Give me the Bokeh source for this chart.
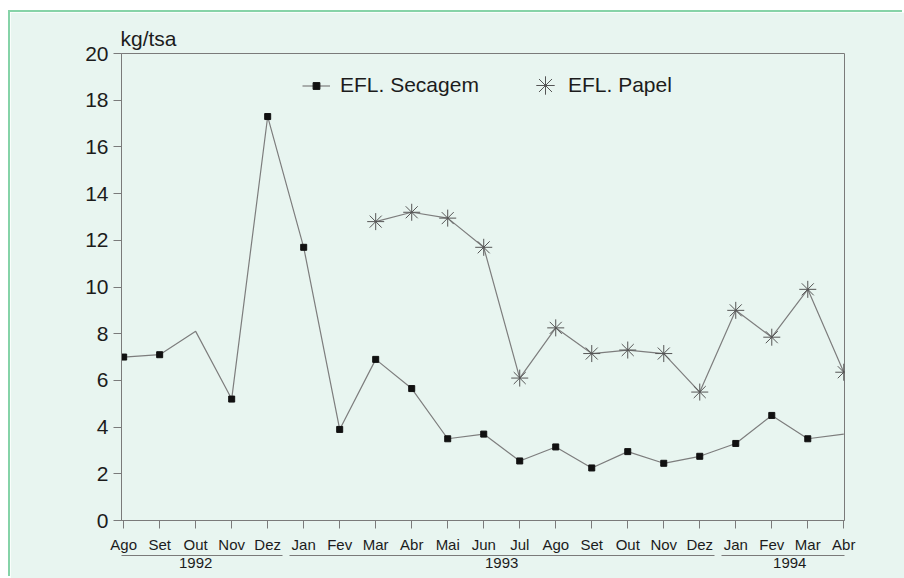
import numpy as np
from bokeh.plotting import figure
from bokeh.models import (ColumnDataSource, Range1d, FixedTicker, Legend, LegendItem,
                          LinearAxis)
from bokeh.embed import file_html
from bokeh.resources import INLINE

# Months from Aug 1992 to Apr 1994
months = ["Ago", "Set", "Out", "Nov", "Dez", "Jan", "Fev", "Mar", "Abr", "Mai", "Jun",
          "Jul", "Ago", "Set", "Out", "Nov", "Dez", "Jan", "Fev", "Mar", "Abr"]

# Effluent load, kg per ton of air-dry pulp
secagem = [7.0, 7.1, 8.1, 5.2, 17.3, 11.7, 3.9, 6.9, 5.65, 3.5, 3.7,
           2.55, 3.15, 2.25, 2.95, 2.45, 2.75, 3.3, 4.5, 3.5, 3.7]
secagem_marked = [True, True, False, True, True, True, True, True, True, True, True,
                  True, True, True, True, True, True, True, True, True, False]
papel = [np.nan] * 7 + [12.8, 13.2, 12.95, 11.7, 6.1, 8.25, 7.15,
                        7.3, 7.15, 5.5, 9.0, 7.85, 9.9, 6.35]

years = ["1992", "1993", "1994"]
year_first = [0, 5, 17]
year_last = [4, 16, 20]

MINT = "#e8f5f0"
AXIS = "#7a7a7a"
TEXT = "#1c1c1c"
SERIES = "#7d7d7d"
FRAME_GREEN = "#86d3a8"
SANS = "Liberation Sans"
NARROW = "'Liberation Sans Narrow', 'Liberation Sans', sans-serif"

x = np.arange(len(months))
mask = np.array(secagem_marked)

p = figure(width=894, height=566, output_backend="svg", toolbar_location=None,
           title="kg/tsa",
           x_range=Range1d(-0.06, 20.02), y_range=Range1d(0, 20),
           min_border_left=111, min_border_right=60, min_border_top=41, min_border_bottom=58,
           background_fill_color=MINT, border_fill_color=MINT,
           outline_line_color=AXIS, outline_line_width=1,
           styles={"margin-left": "10px", "margin-top": "12px",
                   "box-shadow": f"-2px -2px 0 0 {FRAME_GREEN}"})
p.grid.visible = False

# unit caption above the value axis
p.title.align = "left"
p.title.offset = -1
p.title.standoff = 8
p.title.text_font = SANS
p.title.text_font_size = "21px"
p.title.text_font_style = "normal"
p.title.text_color = TEXT

# axes
p.xaxis.ticker = FixedTicker(ticks=list(range(len(months))))
p.xaxis.major_label_overrides = {i: m for i, m in enumerate(months)}
p.xaxis.minor_tick_line_color = None
p.xaxis.major_tick_out = 8
p.xaxis.major_tick_in = 0
p.xaxis.major_label_standoff = 7
p.xaxis.major_label_text_font = NARROW
p.xaxis.major_label_text_font_size = "15px"

p.yaxis.ticker = FixedTicker(ticks=list(range(0, 21, 2)))
p.yaxis.minor_tick_line_color = None
p.yaxis.major_tick_out = 8
p.yaxis.major_tick_in = 0
p.yaxis.major_label_standoff = 5
p.yaxis.major_label_text_font = SANS
p.yaxis.major_label_text_font_size = "21px"

for ax in (p.xaxis, p.yaxis):
    ax.axis_line_color = AXIS
    ax.major_tick_line_color = AXIS
    ax.major_label_text_color = TEXT

# year brackets: one bounded axis line per year, then a row with the year names
for a, b in zip(year_first, year_last):
    p.add_layout(LinearAxis(ticker=FixedTicker(ticks=[]), bounds=(a - 0.4, b + 0.4),
                            major_tick_out=0, major_tick_in=0,
                            minor_tick_out=0, minor_tick_in=0,
                            major_label_standoff=0, axis_line_color=AXIS,
                            axis_line_width=1), "below")
centers = [(a + b) / 2 for a, b in zip(year_first, year_last)]
p.add_layout(LinearAxis(ticker=FixedTicker(ticks=centers),
                        major_label_overrides=dict(zip(centers, years)),
                        major_tick_out=0, major_tick_in=0,
                        minor_tick_out=0, minor_tick_in=0,
                        axis_line_color=None, major_label_standoff=2,
                        major_label_text_font=SANS, major_label_text_font_size="15px",
                        major_label_text_color=TEXT), "below")

# series
sec_src = ColumnDataSource(dict(x=x, y=secagem))
sec_pts = ColumnDataSource(dict(x=x[mask], y=np.array(secagem)[mask]))
pap_src = ColumnDataSource(dict(x=x, y=papel))

sec_line = p.line("x", "y", source=sec_src, line_color=SERIES, line_width=1.2)
sec_mark = p.scatter("x", "y", source=sec_pts, marker="square", size=6,
                     fill_color="#111111", line_color="#111111")
pap_line = p.line("x", "y", source=pap_src, line_color=SERIES, line_width=1.2)
pap_mark = p.scatter("x", "y", source=pap_src, marker="asterisk", size=17,
                     line_color="#555555", line_width=1)

# legend entries laid out in a row near the top of the frame
leg_common = dict(padding=0, margin=0, border_line_alpha=0, background_fill_alpha=0,
                  label_text_font=SANS, label_text_font_size="21px",
                  label_text_color=TEXT)
leg1 = Legend(items=[LegendItem(label="EFL. Secagem", renderers=[sec_line, sec_mark])],
              location=(181, 423), glyph_width=28, glyph_height=17, label_standoff=10,
              **leg_common)
leg2 = Legend(items=[LegendItem(label="EFL. Papel", renderers=[pap_mark])],
              location=(401, 412), glyph_width=46, glyph_height=46, label_standoff=0,
              **leg_common)
p.add_layout(leg1, "center")
p.add_layout(leg2, "center")

open("out.html", "w").write(file_html(p, INLINE))
